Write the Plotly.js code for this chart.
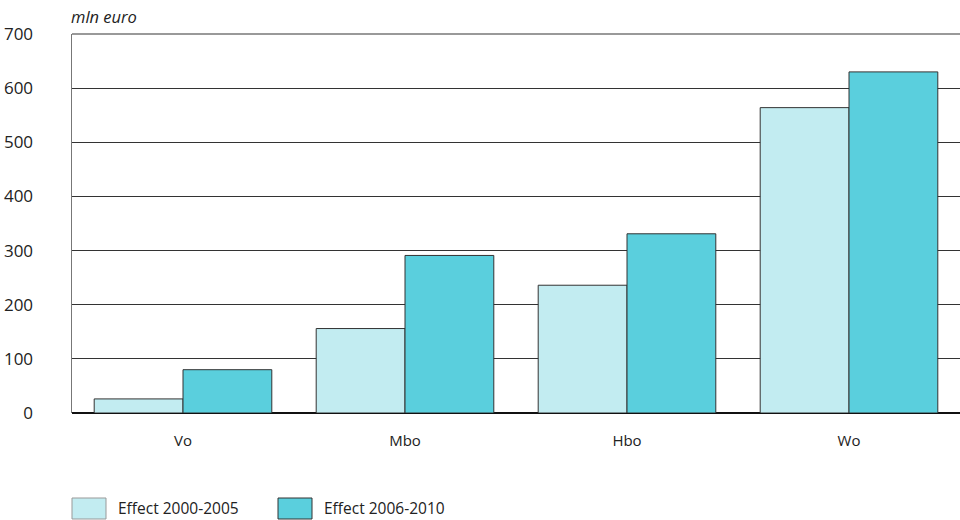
<!DOCTYPE html>
<html>
<head>
<meta charset="utf-8">
<script src="https://cdn.plot.ly/plotly-3.0.1.min.js"></script>
<style>html,body{margin:0;padding:0;background:#fff;}#chart{width:960px;height:520px;}</style>
</head>
<body>
<div id="chart"></div>
<script>
const categories = ["Vo", "Mbo", "Hbo", "Wo"];
const seriesNames = ["Effect 2000-2005", "Effect 2006-2010"];
const effect2000_2005 = [26, 156, 236, 564];
const effect2006_2010 = [80, 291, 331, 630];
const yTicks = [0, 100, 200, 300, 400, 500, 600, 700];
const yUnit = "mln euro";

const colors = ["#C2ECF1", "#5ACFDD"];
const font = "Open Sans, Noto Sans, sans-serif";

const traces = [effect2000_2005, effect2006_2010].map((vals, i) => ({
  type: "bar",
  name: seriesNames[i],
  x: categories,
  y: vals,
  marker: {color: colors[i], line: {color: "#333333", width: 1}},
  showlegend: false,
  hoverinfo: "x+y"
}));

const legendShapes = [];
const legendAnn = [];
const legX = [[72, 106, 118], [278, 312, 324]];
const W = 888;
const H = 379;
function px2x(p) { return (p - 72) / W; }
function py2y(p) { return (413 - p) / H; }
seriesNames.forEach((n, i) => {
  legendShapes.push({
    type: "rect", xref: "paper", yref: "paper",
    x0: px2x(legX[i][0]), x1: px2x(legX[i][1]),
    y0: py2y(519), y1: py2y(498),
    fillcolor: colors[i], line: {color: i === 0 ? "#999999" : "#333333", width: 1}
  });
  legendAnn.push({
    xref: "paper", yref: "paper", x: px2x(legX[i][2] - 2), y: py2y(508),
    xanchor: "left", yanchor: "middle", showarrow: false,
    text: n, font: {family: font, size: 15.5, color: "#222"}
  });
});
// top frame gridline (at the top of the axis range)
legendShapes.push({
  type: "line", xref: "paper", yref: "paper", x0: 0, x1: 1, y0: 1, y1: 1,
  line: {color: "#777777", width: 1.5}, layer: "below"
});

const layout = {
  width: 960, height: 520,
  margin: {l: 72, r: 0, t: 34, b: 107},
  paper_bgcolor: "#fff", plot_bgcolor: "#fff",
  barmode: "group", bargap: 0.2, bargroupgap: 0,
  font: {family: font, size: 15, color: "#222"},
  xaxis: {
    type: "category", showgrid: false, showline: false, zeroline: false,
    ticks: "", tickfont: {family: font, size: 15, color: "#222"},
    ticklabelstandoff: 17, fixedrange: true
  },
  yaxis: {
    range: [0, 700], tickvals: yTicks, ticktext: yTicks.map(String),
    showgrid: true, gridcolor: "#333333", gridwidth: 1,
    zeroline: true, zerolinecolor: "#111", zerolinewidth: 1.5,
    showline: true, linecolor: "#777", linewidth: 1.5,
    ticks: "", tickfont: {family: font, size: 17, color: "#222"},
    ticklabelstandoff: 34, fixedrange: true
  },
  shapes: legendShapes,
  annotations: [{
    xref: "paper", yref: "paper", x: -0.003, y: py2y(16),
    xanchor: "left", yanchor: "middle", showarrow: false,
    text: "<i>" + yUnit + "</i>", font: {family: font, size: 16.5, color: "#222"}
  }].concat(legendAnn)
};

Plotly.newPlot("chart", traces, layout, {displayModeBar: false, staticPlot: true});
</script>
</body>
</html>
